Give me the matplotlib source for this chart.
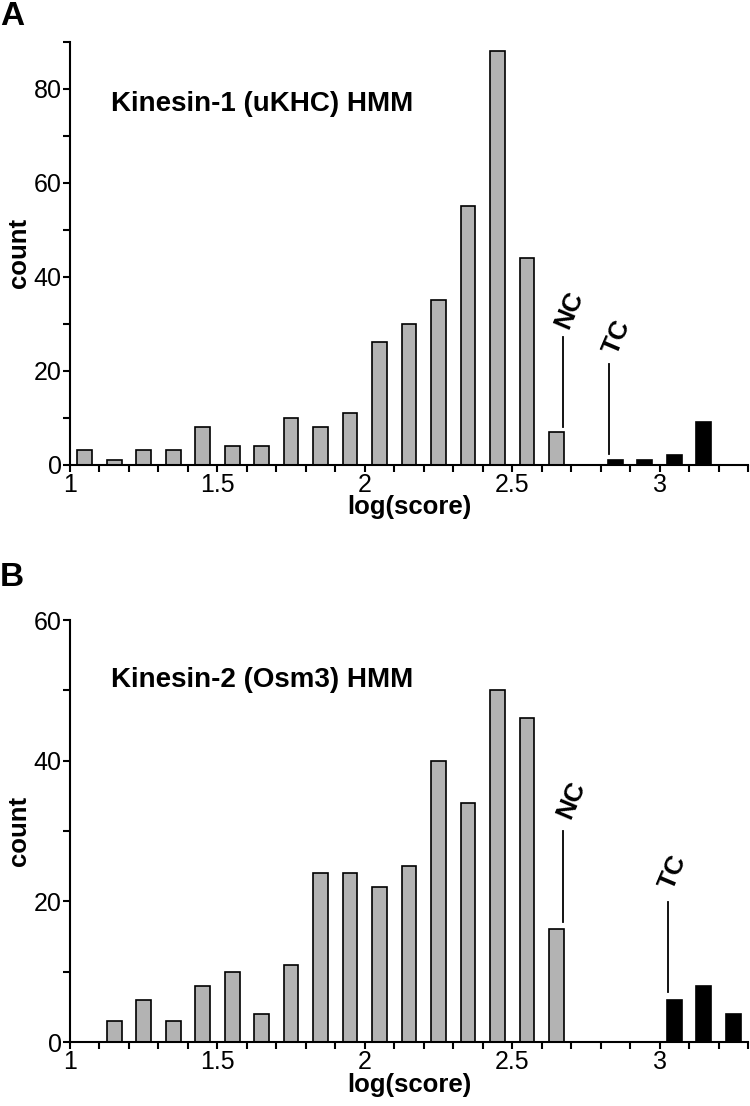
import numpy as np
import matplotlib
matplotlib.use("Agg")
import matplotlib.pyplot as plt
from matplotlib.ticker import MultipleLocator

plt.rcParams["font.family"] = ["Liberation Sans", "DejaVu Sans"]

# bin centres of log(score) histogram
bins = [1.05, 1.15, 1.25, 1.35, 1.45, 1.55, 1.65, 1.75, 1.85, 1.95, 2.05,
        2.15, 2.25, 2.35, 2.45, 2.55, 2.65, 2.75, 2.85, 2.95, 3.05, 3.15, 3.25]

# panel A: Kinesin-1 (uKHC) HMM
counts_a = [3, 1, 3, 3, 8, 4, 4, 10, 8, 11, 26, 30, 35, 55, 88, 44, 7, 0, 1, 1, 2, 9, 0]
black_a = [False] * 18 + [True] * 5
# panel B: Kinesin-2 (Osm3) HMM
counts_b = [0, 3, 6, 3, 8, 10, 4, 11, 24, 24, 22, 25, 40, 34, 50, 46, 16, 0, 0, 0, 6, 8, 4]
black_b = [False] * 20 + [True] * 3

titles = ["Kinesin-1 (uKHC) HMM", "Kinesin-2 (Osm3) HMM"]
title_y = [75.2, 50.5]
ymax = [90, 60]

# marker lines (x, y_bottom, y_top) and label positions
nc_marks = [(2.673, 8.0, 27.2, 2.695, 33.0), (2.673, 17.1, 30.0, 2.70, 34.5)]
tc_marks = [(2.83, 2.2, 21.4, 2.855, 27.2), (3.027, 7.1, 19.9, 3.047, 24.2)]

W, H = 750, 1106
fig = plt.figure(figsize=(W / 100, H / 100), dpi=100)

# axes boxes in pixels: left, bottom(y of x-axis), top
boxes = [(70, 464.5, 42), (70, 1042, 620)]

for i in range(2):
    left, bot, top = boxes[i]
    ax = fig.add_axes([left / W, 1 - bot / H, (748 - left) / W, (bot - top) / H])
    counts = counts_a if i == 0 else counts_b
    black = black_a if i == 0 else black_b
    colors = ["black" if b else "#b3b3b3" for b in black]
    ax.bar(bins, counts, width=0.05, color=colors, edgecolor="black",
           linewidth=1.2, zorder=2)

    ax.set_xlim(1, 3.3)
    ax.set_ylim(0, ymax[i])
    for s in ["top", "right"]:
        ax.spines[s].set_visible(False)
    for s in ["left", "bottom"]:
        ax.spines[s].set_linewidth(1.5)
    ax.xaxis.set_major_locator(MultipleLocator(0.5))
    ax.xaxis.set_minor_locator(MultipleLocator(0.1))
    ax.yaxis.set_major_locator(MultipleLocator(20))
    ax.yaxis.set_minor_locator(MultipleLocator(10))
    ax.xaxis.set_major_formatter(plt.FuncFormatter(lambda v, p: f"{v:g}"))
    ax.tick_params(which="both", direction="out", length=5, width=1.5,
                   labelsize=18, pad=1)
    ax.set_xlabel("log(score)", fontsize=18.5, fontweight="bold", labelpad=-1)
    ax.set_ylabel("count", fontsize=18.5, fontweight="bold", labelpad=2)

    ax.text(1.14, title_y[i], titles[i],
            fontsize=20, fontweight="bold", va="baseline")

    x, y0, y1, tx, ty = nc_marks[i]
    ax.plot([x, x], [y0, y1], color="black", lw=1.3)
    ax.text(tx, ty, "NC", fontsize=19, fontweight="bold", rotation=67,
            ha="center", va="center")
    x, y0, y1, tx, ty = tc_marks[i]
    ax.plot([x, x], [y0, y1], color="black", lw=1.3)
    ax.text(tx, ty, "TC", fontsize=19, fontweight="bold", rotation=67,
            ha="center", va="center")

fig.text(0.0, 1 - 1 / H, "A", fontsize=24, fontweight="bold", va="top", ha="left")
fig.text(0.0, 1 - 562 / H, "B", fontsize=24, fontweight="bold", va="top", ha="left")

fig.savefig("out.png", dpi=100)
